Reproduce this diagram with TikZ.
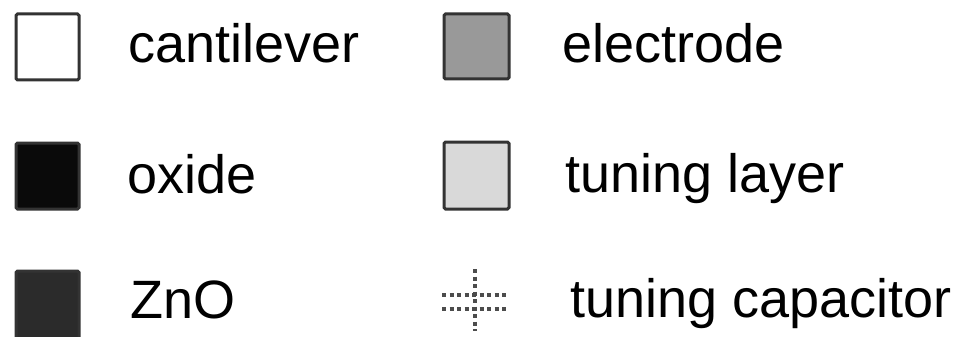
\documentclass[tikz,border=0pt]{standalone}
\usepackage{fontspec}
\setmainfont{Liberation Sans}
\begin{document}
\begin{tikzpicture}[x=1pt,y=-1pt,
  swatch/.style={draw=black!80, line width=3pt, rounded corners=1.5pt},
  lbl/.style={anchor=base west, inner sep=0pt, font=\fontsize{54}{60}\selectfont},
  capline/.style={draw=black!70, line width=4.5pt, dash pattern=on 4pt off 3.5pt}]
\useasboundingbox (0,0) rectangle (959,337);
\begin{scope}
\clip (0,0) rectangle (959,337);
% left column swatches
\draw[swatch, fill=white]    (16,14)  rectangle (79,80);
\draw[swatch, fill=black!96] (16,143) rectangle (79,209);
\draw[swatch, fill=black!83] (16,271) rectangle (79,340);
% right column swatches
\draw[swatch, fill=black!40] (444,14)  rectangle (509,79);
\draw[swatch, fill=black!15] (444,142) rectangle (509,209);
% tuning capacitor symbol
\coordinate (cl1) at (442,295);
\coordinate (cr1) at (509,295);
\coordinate (cl2) at (442,309);
\coordinate (cr2) at (509,309);
\coordinate (ct) at (475,269);
\coordinate (cb) at (475,331);
\draw[capline] (cl1) -- (cr1);
\draw[capline] (cl2) -- (cr2);
\draw[capline, line width=4pt] (ct) -- (cb);
\end{scope}
% labels
\node[lbl] (t1) at (128,63)  {cantilever};
\node[lbl] (t2) at (127,193) {oxide};
\node[lbl] (t3) at (130,318) {ZnO};
\node[lbl] (t4) at (562,63)  {electrode};
\node[lbl] (t5) at (565,192) {tuning layer};
\node[lbl] (t6) at (570,317) {tuning capacitor};
\end{tikzpicture}
\end{document}
